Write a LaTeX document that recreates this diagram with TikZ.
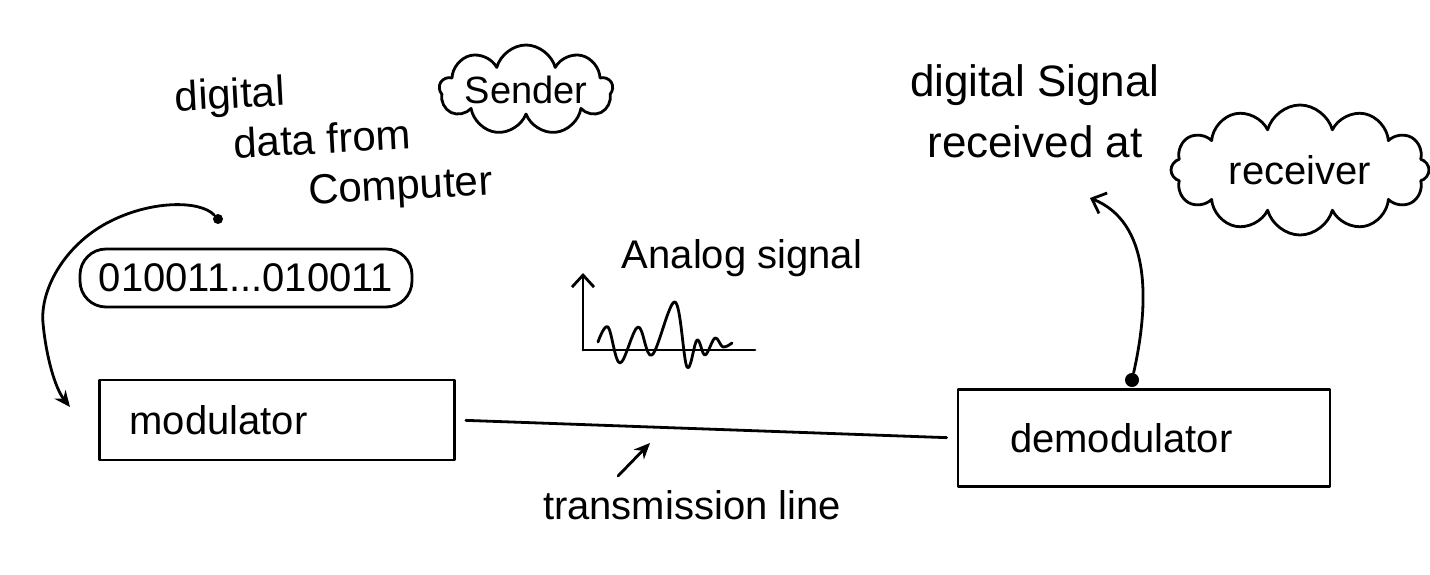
\documentclass[tikz,border=0pt]{standalone}
\usepackage{fontspec}
\setmainfont{Liberation Sans}
\usetikzlibrary{shapes.symbols,arrows.meta,calc}
\begin{document}
\begin{tikzpicture}[x=0.5pt,y=-0.5pt,
  ink/.style={line width=1.4pt, line cap=round, line join=round},
  hand/.style={font=\fontsize{20}{24}\selectfont},
  bighand/.style={font=\fontsize{22}{26}\selectfont},
  smallhand/.style={font=\fontsize{19}{22}\selectfont},
  boxnode/.style={draw, ink, rectangle, align=left, anchor=center},
  puff/.style={draw, ink, cloud, cloud ignores aspect, inner sep=0pt},
  dotnode/.style={circle, fill, inner sep=0pt},
  arr/.style={ink, -{Stealth[length=8pt,width=7pt]}},
  barb/.style={ink, -{Straight Barb[length=6pt,width=11pt]}}]

\useasboundingbox[fill=white] (0,0) rectangle (1430,574);

% ---- sender side texts
\node[align=left, rotate=3, inner sep=0pt, font=\fontsize{21}{25}\selectfont] (src) at (334,142)
  {digital\\\hspace*{28pt}data from\\\hspace*{64pt}Computer};
\node[puff, smallhand, cloud puffs=9, minimum width=71pt, minimum height=45pt] (sender) at (526,90) {Sender};

% ---- bits
\node[dotnode, minimum size=5pt] (dot1) at (218,219) {};
\node[draw, ink, rounded corners=13pt, minimum width=166pt, minimum height=29pt, inner xsep=6pt, hand] (bits) at (246,278) {010011...010011};

% ---- modulator
\node[boxnode, hand, minimum height=40pt, text width=147.5pt, inner xsep=15pt] (mod) at (277,420) {modulator};
\coordinate (modin) at (70,407);
\draw[arr] (dot1) .. controls (200,200) and (150,200) .. (107,223)
  .. controls (64,246) and (40,290) .. (43,323)
  .. controls (46,356) and (55,388) .. (modin);

% ---- demodulator
\node[boxnode, hand, minimum height=48.5pt, text width=134pt, inner xsep=26pt] (demod) at (1144,438) {demodulator};

% ---- transmission line
\draw[ink, shorten <=5pt, shorten >=5pt] (mod.east) -- (demod.west);
\node[hand] (tl) at (692,505) {transmission line};
\coordinate (tla) at (618,476);
\coordinate (tlb) at (650,443);
\draw[arr] (tla) -- (tlb);

% ---- analog signal
\node[hand] (an) at (742,258) {Analog signal};
\coordinate (o) at (583,350);
\coordinate (yt) at (583,273);
\coordinate (xe) at (755,350);
\draw[barb] (o) -- (yt);
\draw[ink] (o) -- (xe);
\draw[ink] plot[smooth, tension=0.6] coordinates {(598,342) (608,327) (620,363) (638,327) (652,355) (675,302) (687,367) (697,340) (705,355) (715,338) (723,347) (732,343)};

% ---- receiver side
\node[bighand] (r1) at (1035,85) {digital Signal};
\node[bighand] (r2) at (1035,142) {received at};
\node[puff, font=\fontsize{20}{24}\selectfont, cloud puffs=12, minimum width=129pt, minimum height=65pt] (recv) at (1300,170) {receiver};
\node[dotnode, minimum size=7pt] (dot2) at (1132,380) {};
\coordinate (rtip) at (1090,198);
\draw[barb] (dot2) .. controls (1150,300) and (1150,222) .. (rtip);

\end{tikzpicture}
\end{document}
